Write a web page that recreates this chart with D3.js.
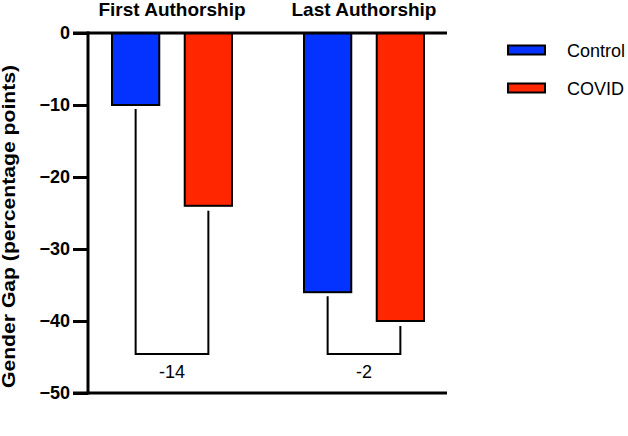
<!DOCTYPE html>
<html>
<head>
<meta charset="utf-8">
<script src="https://cdn.jsdelivr.net/npm/d3@7"></script>
<style>
html,body{margin:0;padding:0;background:#fff;}
svg{display:block;font-family:"Liberation Sans",Arial,sans-serif;}
</style>
</head>
<body>
<svg id="chart" width="628" height="436"></svg>
<script>
const groups = ["First Authorship", "Last Authorship"];
const series = ["Control", "COVID"];
const controlValues = [-10, -36];
const covidValues = [-24, -40];
const diffLabels = ["-14", "-2"];
const bracketLevel = -44.6;
const yTicks = [0, -10, -20, -30, -40, -50];
const colors = ["#0433FF", "#FF2600"];

const svg = d3.select("#chart");
const y = d3.scaleLinear().domain([0, -50]).range([33, 393]);
const x0 = d3.scaleBand().domain(groups).range([76, 460]).padding(0);
const x1 = d3.scaleBand().domain(series).range([36, 156]).paddingInner(0.35).paddingOuter(0);
const color = d3.scaleOrdinal().domain(series).range(colors);
const valuesBy = {Control: controlValues, COVID: covidValues};

// bars
groups.forEach((g, gi) => {
  const gx = x0(g);
  series.forEach(s => {
    const v = valuesBy[s][gi];
    svg.append("rect")
      .attr("x", gx + x1(s))
      .attr("y", y(0))
      .attr("width", x1.bandwidth())
      .attr("height", y(v) - y(0))
      .attr("fill", color(s))
      .attr("stroke", "#000")
      .attr("stroke-width", 2);
  });
  // bracket
  const xa = gx + x1("Control") + x1.bandwidth() / 2;
  const xb = gx + x1("COVID") + x1.bandwidth() / 2;
  const ya = y(controlValues[gi]) + 4;
  const yb = y(covidValues[gi]) + 5;
  const yl = y(bracketLevel);
  svg.append("path")
    .attr("d", `M${xa},${ya}V${yl}H${xb}V${yb}`)
    .attr("fill", "none")
    .attr("stroke", "#000")
    .attr("stroke-width", 2);
  svg.append("text")
    .attr("x", (xa + xb) / 2)
    .attr("y", yl + 24)
    .attr("text-anchor", "middle")
    .attr("font-size", 18)
    .text(diffLabels[gi]);
  // group title
  svg.append("text")
    .attr("x", gx + x0.bandwidth() / 2)
    .attr("y", 16)
    .attr("text-anchor", "middle")
    .attr("font-size", 19)
    .attr("font-weight", "bold")
    .text(g);
});

// horizontal lines at 0 and -50
[0, -50].forEach(v => {
  svg.append("line")
    .attr("x1", 73).attr("x2", 447)
    .attr("y1", y(v)).attr("y2", y(v))
    .attr("stroke", "#000").attr("stroke-width", 3);
});

// y axis
const yAxis = svg.append("g")
  .attr("transform", "translate(88,0)")
  .call(d3.axisLeft(y).tickValues(yTicks).tickSize(15).tickPadding(3).tickFormat(d3.format("d")));
yAxis.select(".domain").attr("stroke-width", 3).attr("d", `M0,${y(0) - 1.5}V${y(-50) + 1.5}`);
yAxis.selectAll(".tick line").attr("stroke-width", 3);
yAxis.selectAll(".tick text")
  .attr("font-size", 18)
  .attr("font-weight", "bold")
  .attr("font-family", "Liberation Sans, Arial, sans-serif")
  .attr("fill", "#000");

// y label
svg.append("text")
  .attr("transform", `translate(15,${(65 + 388) / 2}) rotate(-90)`)
  .attr("text-anchor", "middle")
  .attr("font-size", 18)
  .attr("font-weight", "bold")
  .attr("textLength", 323)
  .attr("lengthAdjust", "spacingAndGlyphs")
  .text("Gender Gap (percentage points)");

// legend
series.forEach((s, i) => {
  const ly = 50 + i * 38;
  svg.append("rect")
    .attr("x", 508).attr("y", ly - 4.5)
    .attr("width", 37).attr("height", 9)
    .attr("fill", color(s))
    .attr("stroke", "#000").attr("stroke-width", 2);
  svg.append("text")
    .attr("x", 567).attr("y", ly + 7)
    .attr("font-size", 18)
    .text(s);
});
</script>
</body>
</html>
